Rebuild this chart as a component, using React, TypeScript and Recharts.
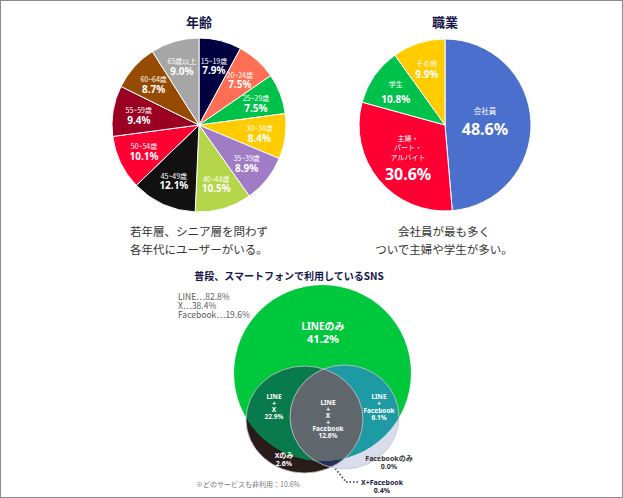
import React from 'react';
import { PieChart, Pie, Cell, ScatterChart, Scatter, XAxis, YAxis, ReferenceLine } from 'recharts';

const JP = '"Noto Sans CJK JP", "Noto Sans", sans-serif';
const NUM = '"Noto Sans", "Noto Sans CJK JP", sans-serif';
const NAVY = '#16164a';
const RAD = Math.PI / 180;

// 年齢
const AGE_GROUPS = ['15~19歳', '20~24歳', '25~29歳', '30~34歳', '35~39歳', '40~44歳', '45~49歳', '50~54歳', '55~59歳', '60~64歳', '65歳以上'];
const AGE_SHARES = [7.9, 7.5, 7.5, 8.4, 8.9, 10.5, 12.1, 10.1, 9.4, 8.7, 9.0];
const AGE_COLORS = ['#000040', '#ff6f55', '#00c24a', '#ffcc00', '#a07cc6', '#b5d64a', '#111111', '#ff0033', '#990022', '#964c00', '#a6a6a6'];

// 職業
const JOB_GROUPS = ['会社員', '主婦・\nパート・\nアルバイト', '学生', 'その他'];
const JOB_SHARES = [48.6, 30.6, 10.8, 9.9];
const JOB_COLORS = ['#4a6fcd', '#ff0033', '#00c24a', '#ffcc00'];

// SNS
const SNS_NAMES = ['LINE', 'X', 'Facebook'];
const SNS_USERS = [82.8, 38.4, 19.6];
const SNS_REGIONS = ['LINEのみ', 'LINE\n+\nX', 'LINE\n+\nX\n+\nFacebook', 'LINE\n+\nFacebook', 'Xのみ', 'Facebookのみ', 'X+Facebook'];
const SNS_REGION_SHARES = [41.2, 22.9, 12.6, 6.1, 2.6, 0.0, 0.4];
const SNS_NONE = 10.6;

const ageData = AGE_GROUPS.map((name, i) => ({ name, value: AGE_SHARES[i] }));
const jobData = JOB_GROUPS.map((name, i) => ({ name, value: JOB_SHARES[i] }));

// label placement for the 職業 pie (radius, first line offset, line step, gap before %)
const JOB_LABEL = [
  { r: 40, top: -13, step: 9.5, pctGap: 19, nameSize: 7.5, pctSize: 16 },
  { r: 48, top: -18, step: 9.5, pctGap: 17, nameSize: 7, pctSize: 16 },
  { r: 60, top: -7, step: 9, pctGap: 15, nameSize: 7, pctSize: 10 },
  { r: 59, top: -6, step: 9, pctGap: 11, nameSize: 7, pctSize: 10 },
];

// venn geometry, chart units = px
const VENN_SETS: Record<string, { x: number; y: number; rx: number; ry: number }> = {
  LINE: { x: 161.5, y: 112, rx: 88.5, ry: 88 },
  X: { x: 143.5, y: 158.5, rx: 58.5, ry: 53.5 },
  Facebook: { x: 183.5, y: 156, rx: 54.5, ry: 52 },
};

const VENN_LAYERS = [
  { set: 'Facebook', fill: '#d9dcec', def: true },
  { set: 'X', fill: '#2a1b1b', def: true },
  { set: 'Facebook', fill: '#26305a', clip: ['X'] },
  { set: 'LINE', fill: '#00c83c', def: true },
  { set: 'X', fill: '#087a4c', clip: ['LINE'] },
  { set: 'Facebook', fill: '#1e9aa5', clip: ['LINE'] },
  { set: 'Facebook', fill: '#5f676d', clip: ['LINE', 'X'] },
  { set: 'X', fill: 'none', stroke: '#c9c9c9' },
  { set: 'Facebook', fill: 'none', stroke: '#c9c9c9' },
];

const VENN_LABEL_AT = [
  { x: 162, y: 65, lh: 12, size: 10, pctSize: 11, color: '#fff' },
  { x: 113, y: 135, lh: 6.7, size: 6.5, pctSize: 6.5, color: '#fff' },
  { x: 167, y: 141, lh: 6.6, size: 6.5, pctSize: 6.5, color: '#fff' },
  { x: 218, y: 135, lh: 7, size: 6.5, pctSize: 6.5, color: '#fff' },
  { x: 123, y: 194, lh: 8, size: 7, pctSize: 7, color: '#fff' },
  { x: 228, y: 197, lh: 7.5, size: 7, pctSize: 7, color: '#333' },
  { x: 221, y: 221, lh: 7.5, size: 7, pctSize: 7, color: '#1a1a40' },
];

const vennLayerData = VENN_LAYERS.map((l) => ({ ...l, ...VENN_SETS[l.set] }));
const vennLabelData = SNS_REGIONS.map((name, i) => ({ name, value: SNS_REGION_SHARES[i], ...VENN_LABEL_AT[i] }));

function AgeLabel({ cx, cy, midAngle, index }: any) {
  const r = 61;
  const x = cx + r * Math.cos(-midAngle * RAD);
  const y = cy + r * Math.sin(-midAngle * RAD);
  return (
    <text x={x} y={y - 5} textAnchor="middle" dominantBaseline="central" fill="#fff">
      <tspan x={x} fontSize={7} fontFamily={JP}>{AGE_GROUPS[index]}</tspan>
      <tspan x={x} dy={9.5} fontSize={10} fontWeight="bold" fontFamily={NUM}>
        {AGE_SHARES[index].toFixed(1)}%
      </tspan>
    </text>
  );
}

function JobLabel({ cx, cy, midAngle, index }: any) {
  const s = JOB_LABEL[index];
  const x = cx + s.r * Math.cos(-midAngle * RAD);
  const y = cy + s.r * Math.sin(-midAngle * RAD);
  const lines = JOB_GROUPS[index].split('\n');
  return (
    <text x={x} y={y + s.top} textAnchor="middle" dominantBaseline="central" fill="#fff">
      {lines.map((t, k) => (
        <tspan key={k} x={x} dy={k === 0 ? 0 : s.step} fontSize={s.nameSize} fontFamily={JP}>
          {t}
        </tspan>
      ))}
      <tspan x={x} dy={s.pctGap} fontSize={s.pctSize} fontWeight="bold" fontFamily={NUM}>
        {JOB_SHARES[index].toFixed(1)}%
      </tspan>
    </text>
  );
}

function VennShape({ cx, cy, payload }: any) {
  let el = <ellipse cx={cx} cy={cy} rx={payload.rx} ry={payload.ry} fill={payload.fill} stroke={payload.stroke || 'none'} strokeWidth={0.8} />;
  (payload.clip || []).forEach((c: string) => {
    el = <g clipPath={`url(#venn-${c})`}>{el}</g>;
  });
  return (
    <g>
      {payload.def && (
        <defs>
          <clipPath id={`venn-${payload.set}`}>
            <ellipse cx={cx} cy={cy} rx={payload.rx} ry={payload.ry} />
          </clipPath>
        </defs>
      )}
      {el}
    </g>
  );
}

function VennLabel({ cx, cy, payload }: any) {
  const lines = payload.name.split('\n');
  return (
    <text x={cx} y={cy} fontFamily={NUM} fontWeight="bold" fill={payload.color} textAnchor="middle" dominantBaseline="central">
      {lines.map((t: string, k: number) => (
        <tspan key={k} x={cx} dy={k === 0 ? 0 : payload.lh} fontSize={payload.size}>
          {t}
        </tspan>
      ))}
      <tspan x={cx} dy={payload.lh} fontSize={payload.pctSize}>
        {payload.value.toFixed(1)}%
      </tspan>
    </text>
  );
}

const abs = (left: number, top: number): React.CSSProperties => ({ position: 'absolute', left, top });

export default function App() {
  return (
    <div style={{ position: 'relative', width: 623, height: 498, boxSizing: 'border-box', border: '1px solid #8c8c8c', background: '#fff', fontFamily: JP }}>
      <style>{'body{margin:0}'}</style>

      <div style={{ ...abs(148, 12), width: 100, textAlign: 'center', fontSize: 13, fontWeight: 'bold', color: NAVY, lineHeight: '18px' }}>年齢</div>
      <div style={{ ...abs(394, 12), width: 100, textAlign: 'center', fontSize: 13, fontWeight: 'bold', color: NAVY, lineHeight: '18px' }}>職業</div>

      <div style={abs(98, 24)}>
        <PieChart width={200} height={200} margin={{ top: 0, right: 0, bottom: 0, left: 0 }}>
          <Pie data={ageData} dataKey="value" cx={100} cy={100} outerRadius={87} startAngle={90} endAngle={-270}
            stroke="#fff" strokeWidth={1} label={AgeLabel} labelLine={false} isAnimationActive={false}>
            {ageData.map((_, i) => (
              <Cell key={i} fill={AGE_COLORS[i]} />
            ))}
          </Pie>
        </PieChart>
      </div>

      <div style={abs(344, 24)}>
        <PieChart width={200} height={200} margin={{ top: 0, right: 0, bottom: 0, left: 0 }}>
          <Pie data={jobData} dataKey="value" cx={100} cy={100} outerRadius={86} startAngle={90} endAngle={-270}
            stroke="#fff" strokeWidth={1} label={JobLabel} labelLine={false} isAnimationActive={false}>
            {jobData.map((_, i) => (
              <Cell key={i} fill={JOB_COLORS[i]} />
            ))}
          </Pie>
        </PieChart>
      </div>

      <div style={{ ...abs(129, 221), fontSize: 11.5, lineHeight: '18px', color: '#333' }}>
        若年層、シニア層を問わず<br />各年代にユーザーがいる。
      </div>
      <div style={{ ...abs(343, 221), width: 200, textAlign: 'center', fontSize: 11.5, lineHeight: '18px', color: '#333' }}>
        会社員が最も多く<br />ついで主婦や学生が多い。
      </div>

      <div style={{ ...abs(138, 268), width: 300, textAlign: 'center', fontSize: 10, fontWeight: 'bold', color: NAVY, lineHeight: '14px' }}>
        普段、スマートフォンで利用しているSNS
      </div>

      <div style={{ ...abs(177, 291), fontSize: 8.5, lineHeight: '9px', color: '#595959' }}>
        {SNS_NAMES.map((n, i) => (
          <div key={n}>{n}…{SNS_USERS[i].toFixed(1)}%</div>
        ))}
      </div>

      <div style={abs(160, 260)}>
        <ScatterChart width={300} height={238} margin={{ top: 0, right: 0, bottom: 0, left: 0 }}>
          <XAxis type="number" dataKey="x" domain={[0, 300]} hide />
          <YAxis type="number" dataKey="y" domain={[0, 238]} reversed hide />
          <Scatter data={vennLayerData} shape={VennShape} isAnimationActive={false} />
          <ReferenceLine segment={[{ x: 170, y: 202 }, { x: 185, y: 221 }]} stroke="#1f2a6a" strokeWidth={1.5} strokeDasharray="1.5 2" />
          <ReferenceLine segment={[{ x: 185, y: 221 }, { x: 197, y: 221 }]} stroke="#1f2a6a" strokeWidth={1.5} strokeDasharray="1.5 2" />
          <Scatter data={vennLabelData} shape={VennLabel} isAnimationActive={false} />
        </ScatterChart>
      </div>

      <div style={{ ...abs(195, 478), fontSize: 7, lineHeight: '10px', color: '#777' }}>
        ※どのサービスも非利用：{SNS_NONE.toFixed(1)}%
      </div>
    </div>
  );
}
